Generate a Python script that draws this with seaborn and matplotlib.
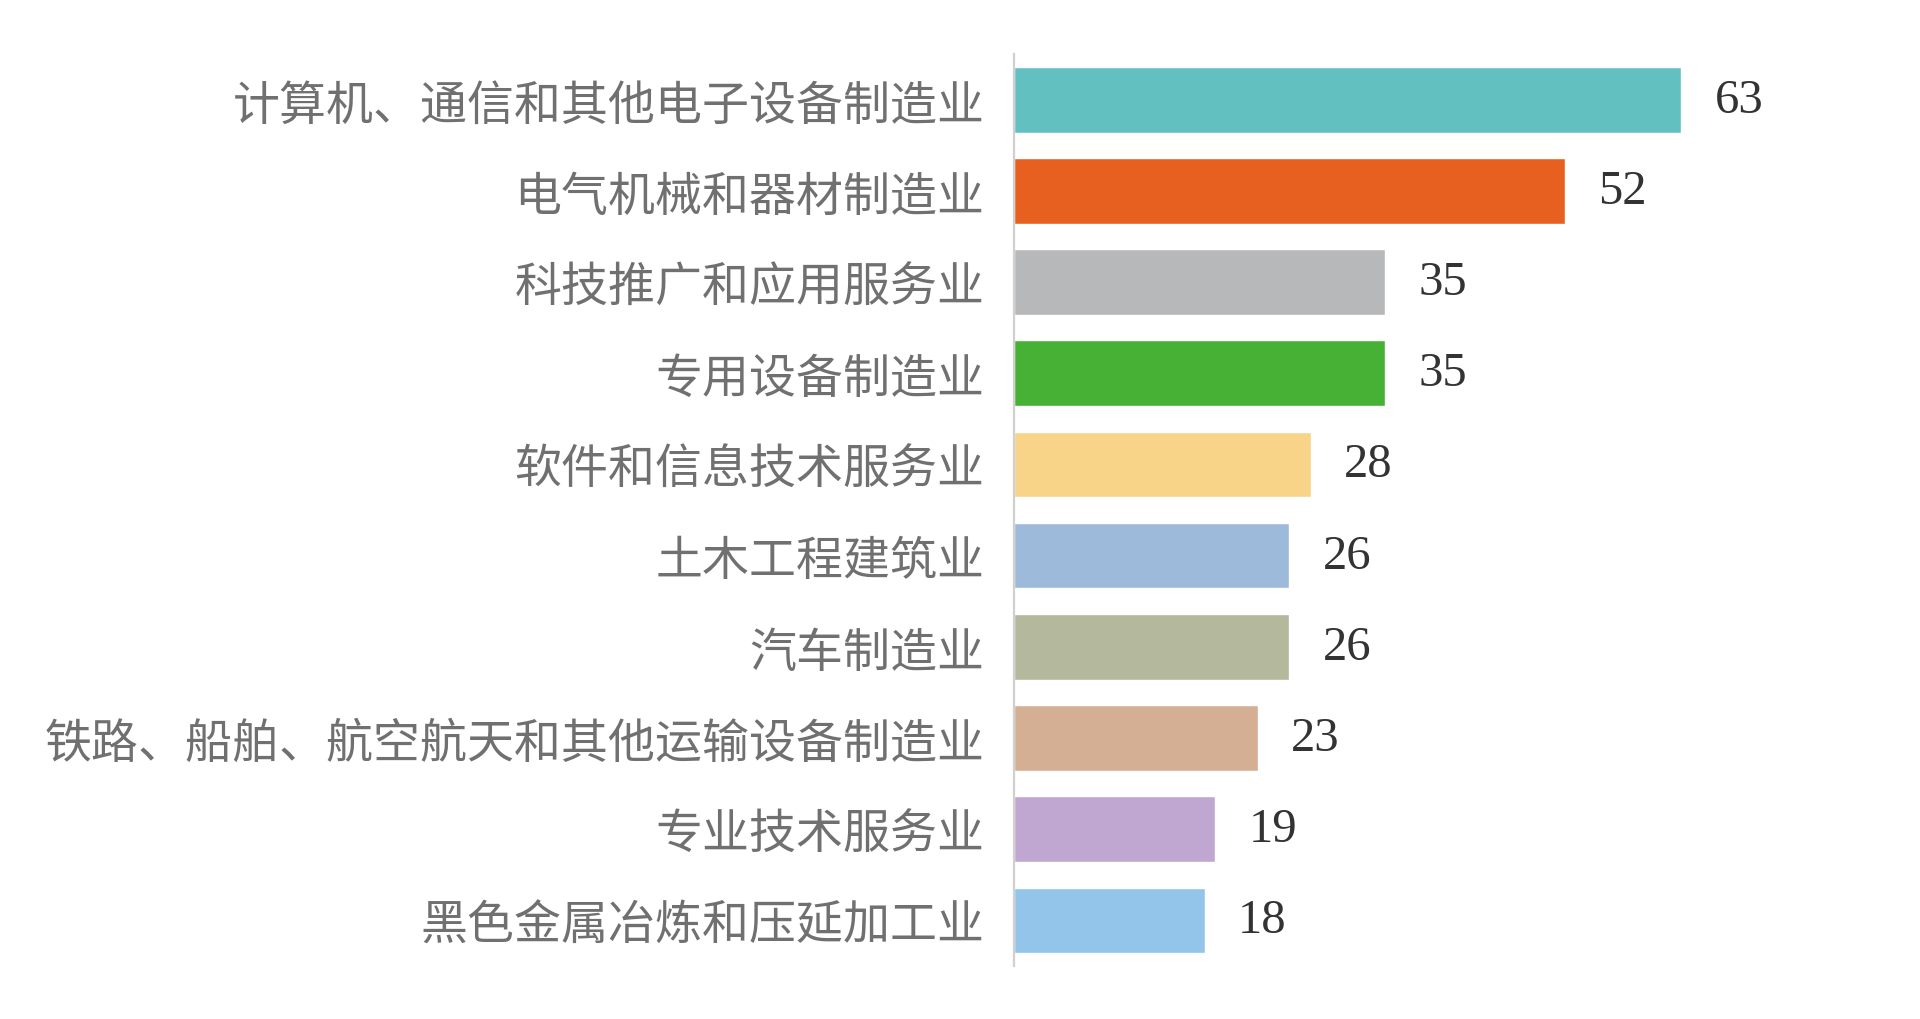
import matplotlib
matplotlib.use("Agg")
import matplotlib.pyplot as plt
import seaborn as sns
import pandas as pd

industries = ["计算机、通信和其他电子设备制造业", "电气机械和器材制造业", "科技推广和应用服务业",
              "专用设备制造业", "软件和信息技术服务业", "土木工程建筑业", "汽车制造业",
              "铁路、船舶、航空航天和其他运输设备制造业", "专业技术服务业", "黑色金属冶炼和压延加工业"]
counts = [63, 52, 35, 35, 28, 26, 26, 23, 19, 18]
bar_colors = ["#62C1C0", "#E8601F", "#B7B8BA", "#47B135", "#F8D488",
              "#9DBADB", "#B4B89C", "#D4AF93", "#C0A7D1", "#92C5E9"]

df = pd.DataFrame({"industry": industries, "count": counts})

sns.set_theme(style="white")
plt.rcParams['font.family'] = ['Noto Sans CJK SC', 'DejaVu Sans']

fig = plt.figure(figsize=(19.2, 10.2), dpi=100)
ax = fig.add_axes([0.528, 0.052, 0.4615, 0.894])

sns.barplot(data=df, x="count", y="industry", hue="industry", palette=bar_colors,
            legend=False, width=0.72, ax=ax, saturation=1)

for c in ax.containers:
    ax.bar_label(c, padding=24, fontsize=35, color="#333333", family="Liberation Serif")

ax.set_xlim(0, 83.6)
ax.set_ylim(9.5, -0.5)
ax.set_xlabel("")
ax.set_ylabel("")
ax.set_xticks([])
ax.tick_params(axis="y", length=0, pad=21, labelsize=33.8, labelcolor="#707070")
for lab in ax.get_yticklabels():
    lab.set_fontweight("light")

for s in ["top", "right", "bottom"]:
    ax.spines[s].set_visible(False)
ax.spines["left"].set_color("#D0D0D0")
ax.spines["left"].set_linewidth(1.6)

fig.savefig("out.png", dpi=100, facecolor="white")
